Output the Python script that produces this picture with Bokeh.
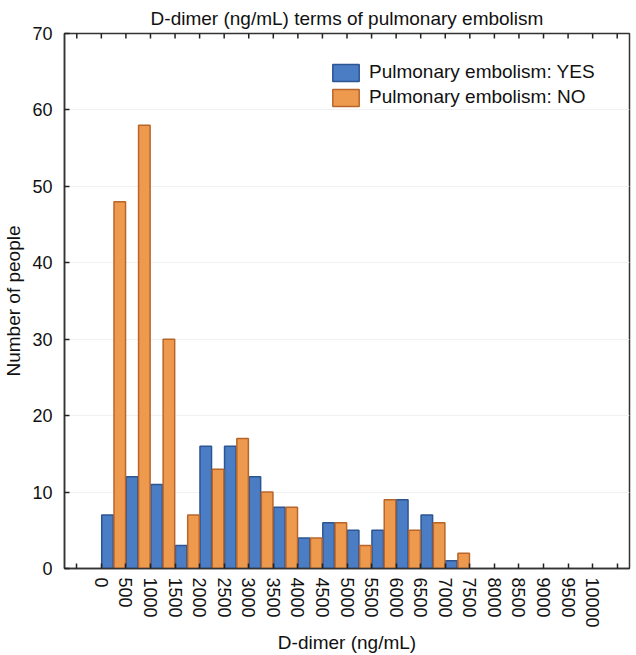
from bokeh.plotting import figure
from bokeh.models import Range1d, FixedTicker, Legend, LegendItem, ColumnDataSource
from bokeh.embed import file_html
from bokeh.resources import INLINE

# Data (bin start of each 500 ng/mL bin)
bin_starts = [0, 500, 1000, 1500, 2000, 2500, 3000, 3500, 4000, 4500, 5000, 5500, 6000, 6500, 7000]
pe_yes = [7, 12, 11, 3, 16, 16, 12, 8, 4, 6, 5, 5, 9, 7, 1]
pe_no = [48, 58, 30, 7, 13, 17, 10, 8, 4, 6, 3, 9, 5, 6, 2]
bin_width = 500
x_ticks = list(range(-500, 11000, 500))
x_tick_labels = {t: (str(t) if 0 <= t <= 10000 else "") for t in x_ticks}
y_ticks = [0, 10, 20, 30, 40, 50, 60, 70]

FONT = "Liberation Sans"
AX = "#333333"
Y_MAX = 70

src = ColumnDataSource(dict(
    x_yes=[b + bin_width * 0.25 for b in bin_starts],
    x_no=[b + bin_width * 0.75 for b in bin_starts],
    yes=pe_yes, no=pe_no,
))

p = figure(width=634, height=655, x_range=Range1d(-750, 10750), y_range=Range1d(0, Y_MAX),
           output_backend="svg", toolbar_location=None,
           min_border_left=64, min_border_right=5, min_border_top=33, min_border_bottom=87)

p.title.text = "D-dimer (ng/mL) terms of pulmonary embolism"
p.title.align = "center"
p.title.text_font = FONT
p.title.text_font_size = "19px"
p.title.text_font_style = "normal"
p.title.text_color = "#111111"
p.title.standoff = 10
p.title.offset = 0

bw = bin_width * 0.47
r_yes = p.vbar(x="x_yes", top="yes", bottom=0, width=bw, source=src,
               fill_color="#4a7dc4", line_color="#2c5592", line_width=1.5)
r_no = p.vbar(x="x_no", top="no", bottom=0, width=bw, source=src,
              fill_color="#ed9a4f", line_color="#b8652b", line_width=1.5)

# top frame tick marks (inward), same positions as bottom ticks
tick_len = Y_MAX * 5 / 535
p.segment(x0=x_ticks, x1=x_ticks, y0=[Y_MAX] * len(x_ticks), y1=[Y_MAX - tick_len] * len(x_ticks),
          line_color="#222222", line_width=1.5)

# axes
xa = p.xaxis[0]
xa.ticker = FixedTicker(ticks=x_ticks)
xa.major_label_overrides = x_tick_labels
xa.major_label_orientation = "vertical"
xa.axis_label = "D-dimer (ng/mL)"
ya = p.yaxis[0]
ya.ticker = FixedTicker(ticks=y_ticks)
ya.axis_label = "Number of people"

for ax in [xa, ya]:
    ax.major_tick_in = 5
    ax.major_tick_out = 0
    ax.minor_tick_in = 0
    ax.minor_tick_out = 0
    ax.axis_line_color = AX
    ax.axis_line_width = 1.5
    ax.major_tick_line_color = "#222222"
    ax.major_tick_line_width = 1.5
    ax.major_label_text_font = FONT
    ax.major_label_text_color = "#111111"
    ax.axis_label_text_font = FONT
    ax.axis_label_text_font_style = "normal"
    ax.axis_label_text_color = "#111111"
    ax.axis_label_text_font_size = "19px"

xa.major_label_text_font_size = "18px"
ya.major_label_text_font_size = "18px"
xa.major_label_standoff = 9
xa.axis_label_standoff = 1
ya.major_label_standoff = 12
ya.axis_label_standoff = 5

p.outline_line_color = AX
p.outline_line_width = 1.5
p.xgrid.grid_line_color = None
p.ygrid.ticker = FixedTicker(ticks=y_ticks)
p.ygrid.grid_line_color = "#f1f1f1"

legend = Legend(items=[LegendItem(label="Pulmonary embolism: YES", renderers=[r_yes]),
                       LegendItem(label="Pulmonary embolism: NO", renderers=[r_no])],
                location=(265, 460), padding=0, margin=0, spacing=3,
                glyph_width=33, glyph_height=21, label_standoff=7,
                label_text_font=FONT, label_text_font_size="19px", label_text_color="#111111",
                border_line_color=None, background_fill_alpha=0)
p.add_layout(legend)

open("out.html", "w").write(file_html(p, INLINE))
